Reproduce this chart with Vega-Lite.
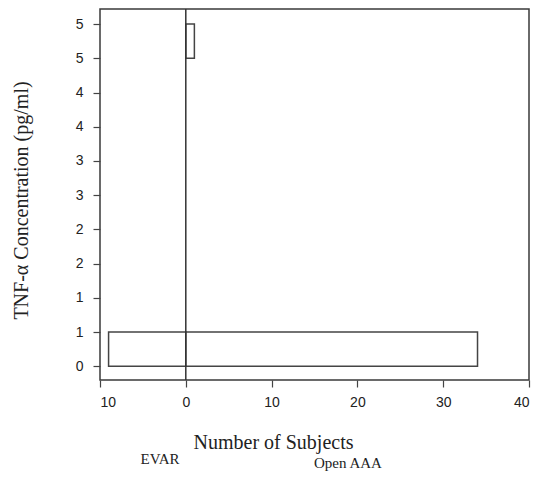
{
  "$schema": "https://vega.github.io/schema/vega-lite/v6.json",
  "autosize": "none",
  "width": 429,
  "height": 371,
  "padding": {"left": 100, "top": 9, "right": 7, "bottom": 97},
  "background": "white",
  "config": {
    "view": {"stroke": "#3a3a3a", "strokeWidth": 1.5},
    "axis": {"grid": false, "domain": false, "tickColor": "#444", "tickWidth": 1.2, "labelColor": "#222", "labelFont": "Liberation Sans", "titleFont": "Liberation Serif", "titleFontWeight": "normal", "titleColor": "#222", "labelOverlap": false}
  },
  "datasets": {
    "bars": [
      {"group": "EVAR", "count": -9, "lo": 0, "hi": 0.5},
      {"group": "Open AAA", "count": 34, "lo": 0, "hi": 0.5},
      {"group": "Open AAA", "count": 1, "lo": 4.5, "hi": 5}
    ],
    "groups": [
      {"group": "EVAR", "x": -3.0, "y": -1.43},
      {"group": "Open AAA", "x": 18.9, "y": -1.49}
    ]
  },
  "resolve": {"axis": {"x": "independent", "y": "independent"}},
  "layer": [
    {
      "data": {"name": "bars"},
      "mark": {"type": "rect", "fill": "white", "stroke": "#444", "strokeWidth": 1.5},
      "encoding": {
        "x": {"field": "count", "type": "quantitative",
          "scale": {"domain": [-10, 40], "nice": false, "zero": false},
          "axis": {"values": [-10, 0, 10, 20, 30, 40], "labelExpr": "format(abs(datum.value), 'd')", "labelFontSize": 14, "tickSize": 7, "labelPadding": 8,
            "title": "Number of Subjects", "titleFontSize": 20, "titleX": 173, "titleY": 68, "titleBaseline": "alphabetic", "titleAlign": "center", "titleAnchor": null}},
        "x2": {"datum": 0},
        "y": {"field": "lo", "type": "quantitative",
          "scale": {"domain": [-0.2, 5.22], "nice": false, "zero": false},
          "axis": {"values": [0, 0.5, 1, 1.5, 2, 2.5, 3, 3.5, 4, 4.5, 5], "labelExpr": "ceil(datum.value) + ''", "labelFontSize": 14, "tickSize": 7, "labelPadding": 10,
            "title": "TNF-α Concentration (pg/ml)", "titleFontSize": 20, "titleX": -79, "titleY": 191, "titleBaseline": "middle", "titleAlign": "center", "titleAngle": -90, "titleAnchor": null}},
        "y2": {"field": "hi"}
      }
    },
    {
      "data": {"values": [{"v": 0}]},
      "mark": {"type": "rule", "color": "#333", "strokeWidth": 1.5},
      "encoding": {"x": {"field": "v", "type": "quantitative", "axis": null}}
    },
    {
      "data": {"name": "groups"},
      "mark": {"type": "text", "font": "Liberation Serif", "fontSize": 15, "color": "#222", "baseline": "alphabetic", "align": "center", "clip": false},
      "encoding": {
        "x": {"field": "x", "type": "quantitative", "axis": null},
        "y": {"field": "y", "type": "quantitative", "axis": null},
        "text": {"field": "group"}
      }
    }
  ]
}
